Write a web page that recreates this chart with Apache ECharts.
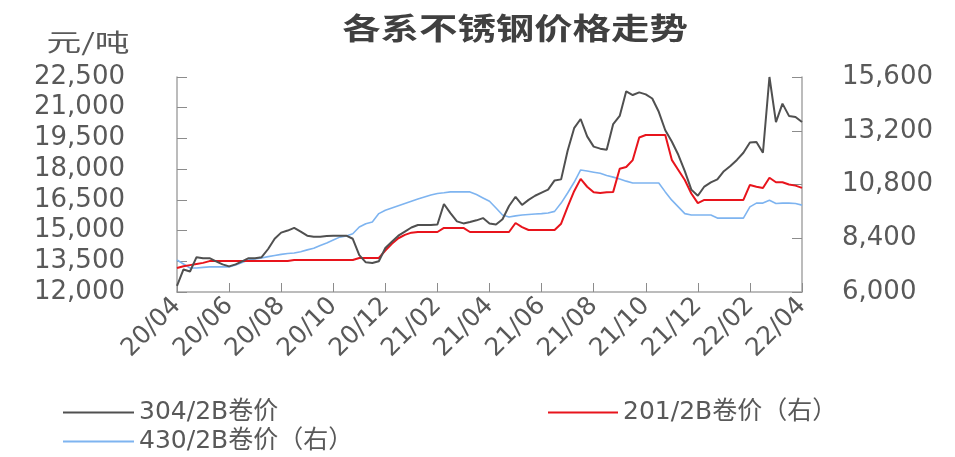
<!DOCTYPE html>
<html>
<head>
    <meta charset="utf-8">
    <title>各系不锈钢价格走势</title>
    <script src="https://cdn.jsdelivr.net/npm/echarts@6/dist/echarts.min.js"></script>
</head>
<body style="margin:0">
    <div id="main" style="width: 955px;height:457px;"></div>
    <script type="text/javascript">
// weekly dates, 2020-04 .. 2022-04
var months = ['2020-04','2020-05','2020-06','2020-07','2020-08','2020-09','2020-10','2020-11','2020-12',
    '2021-01','2021-02','2021-03','2021-04','2021-05','2021-06','2021-07','2021-08','2021-09','2021-10',
    '2021-11','2021-12','2022-01','2022-02','2022-03','2022-04'];
var days = ['01', '08', '16', '23'];

var dates = [];
months.forEach(function (m, i) {
    days.forEach(function (d, j) {
        if (i < months.length - 1 || j === 0) dates.push(m + '-' + d);
    });
});

// 304/2B 卷价 (left axis, 元/吨)
var s304 = [12300, 13100, 13000, 13700, 13650, 13650, 13500, 13350, 13250, 13350,
    13500, 13650, 13650, 13700, 14100, 14600, 14900, 15000, 15130, 14950,
    14750, 14700, 14700, 14730, 14750, 14750, 14750, 14600, 13800, 13450,
    13420, 13500, 14150, 14450, 14750, 14950, 15150, 15270, 15270, 15270,
    15300, 16300, 15850, 15450, 15350, 15420, 15500, 15610, 15350, 15300,
    15550, 16200, 16650, 16250, 16500, 16700, 16850, 17000, 17450, 17500,
    18900, 20000, 20450, 19600, 19100, 19000, 18950, 20200, 20600, 21800,
    21620, 21750, 21650, 21450, 20800, 19900, 19350, 18700, 17900, 17000,
    16700, 17150, 17350, 17500, 17900, 18150, 18450, 18800, 19300, 19330,
    18800, 22500, 20300, 21200, 20600, 20550, 20300];

// 201/2B 卷价 (right axis)
var s201 = [7070, 7150, 7200, 7250, 7300, 7380, 7380, 7380, 7380, 7380,
    7380, 7380, 7380, 7380, 7380, 7380, 7380, 7380, 7430, 7430,
    7430, 7430, 7430, 7430, 7430, 7430, 7430, 7430, 7520, 7520,
    7520, 7520, 7850, 8150, 8400, 8550, 8650, 8680, 8680, 8680,
    8680, 8860, 8860, 8860, 8860, 8680, 8680, 8680, 8680, 8680,
    8680, 8680, 9080, 8900, 8770, 8770, 8770, 8770, 8770, 9050,
    9800, 10500, 11050, 10700, 10450, 10420, 10450, 10470, 11500, 11580,
    11890, 12900, 13010, 13010, 13010, 13010, 11900, 11450, 11000, 10400,
    9970, 10110, 10110, 10110, 10110, 10110, 10110, 10110, 10780, 10700,
    10640, 11100, 10900, 10900, 10800, 10750, 10650];

// 430/2B 卷价 (right axis)
var s430 = [7430, 7250, 7070, 7070, 7100, 7120, 7120, 7120, 7120, 7210,
    7320, 7430, 7480, 7520, 7580, 7630, 7680, 7720, 7740, 7800,
    7880, 7950, 8080, 8190, 8320, 8450, 8500, 8600, 8900, 9050,
    9130, 9500, 9650, 9750, 9850, 9950, 10050, 10150, 10240, 10330,
    10400, 10430, 10470, 10470, 10470, 10470, 10350, 10200, 10050, 9750,
    9440, 9350, 9400, 9440, 9460, 9480, 9500, 9530, 9600, 9970,
    10420, 10900, 11450, 11400, 11350, 11300, 11200, 11130, 11050, 10950,
    10870, 10870, 10870, 10870, 10870, 10470, 10100, 9800, 9500, 9440,
    9440, 9440, 9440, 9300, 9300, 9300, 9300, 9300, 9800, 9970,
    9970, 10100, 9950, 9970, 9970, 9950, 9880];

var names = ['304/2B卷价', '201/2B卷价（右）', '430/2B卷价（右）'];

var myChart = echarts.init(document.getElementById('main'));

var labelFont = 'DejaVu Sans, Noto Sans CJK SC, sans-serif';
var axisGray = '#A6A6A6';
var tickGray = '#8C8C8C';
var textGray = '#595959';

function everyTwoMonths(index) {
    return index % 8 === 0;
}

function thousands(v) {
    return v.toLocaleString('en-US');
}

var legendText = { color: textGray, fontSize: 25, fontFamily: labelFont };

option = {
    backgroundColor: '#fff',
    animation: false,
    graphic: [{
        type: 'text',
        x: 515,
        y: 28,
        scaleX: 1.28,
        style: {
            text: '各系不锈钢价格走势',
            font: 'bold 30px "Noto Sans CJK SC"',
            fill: '#404040',
            textAlign: 'center',
            textVerticalAlign: 'middle'
        }
    }, {
        type: 'text',
        x: 88,
        y: 42,
        scaleX: 1.45,
        style: {
            text: '元/吨',
            font: '24px "Noto Sans CJK SC"',
            fill: textGray,
            textAlign: 'center',
            textVerticalAlign: 'middle'
        }
    }],
    legend: [{
        left: 58, top: 395,
        data: [names[0]],
        icon: 'rect', itemWidth: 71, itemHeight: 2,
        textStyle: legendText
    }, {
        left: 543, top: 395,
        data: [names[1]],
        icon: 'rect', itemWidth: 70, itemHeight: 2,
        textStyle: legendText
    }, {
        left: 58, top: 424,
        data: [names[2]],
        icon: 'rect', itemWidth: 71, itemHeight: 2,
        textStyle: legendText
    }],
    grid: {
        left: 177,
        right: 153,
        top: 77,
        bottom: 165
    },
    xAxis: {
        type: 'category',
        data: dates,
        boundaryGap: false,
        axisLine: { lineStyle: { color: axisGray, width: 1.5 } },
        axisTick: {
            show: true,
            inside: true,
            length: 9,
            interval: everyTwoMonths,
            lineStyle: { color: tickGray }
        },
        axisLabel: {
            interval: everyTwoMonths,
            rotate: 45,
            margin: 10,
            color: textGray,
            fontSize: 25,
            fontFamily: labelFont,
            formatter: function (v) {
                return v.slice(2, 4) + '/' + v.slice(5, 7);
            }
        },
        splitLine: { show: false }
    },
    yAxis: [{
        type: 'value',
        min: 12000,
        max: 22500,
        interval: 1500,
        axisLine: { show: true, lineStyle: { color: axisGray, width: 1.5 } },
        axisTick: { show: true, inside: true, length: 10, lineStyle: { color: tickGray } },
        axisLabel: {
            margin: 52,
            color: textGray,
            fontSize: 26,
            fontFamily: labelFont,
            formatter: thousands
        },
        splitLine: { show: false }
    }, {
        type: 'value',
        min: 6000,
        max: 15600,
        interval: 2400,
        position: 'right',
        axisLine: { show: true, lineStyle: { color: axisGray, width: 1.5 } },
        axisTick: { show: true, inside: true, length: 10, lineStyle: { color: tickGray } },
        axisLabel: {
            margin: 40,
            color: textGray,
            fontSize: 26,
            fontFamily: labelFont,
            formatter: thousands
        },
        splitLine: { show: false }
    }],
    series: [{
        name: names[0],
        type: 'line',
        data: s304,
        yAxisIndex: 0,
        symbol: 'none',
        color: '#505050',
        lineStyle: { width: 2 },
        z: 3
    }, {
        name: names[1],
        type: 'line',
        data: s201,
        yAxisIndex: 1,
        symbol: 'none',
        color: '#E8141C',
        lineStyle: { width: 2 },
        z: 2
    }, {
        name: names[2],
        type: 'line',
        data: s430,
        yAxisIndex: 1,
        symbol: 'none',
        color: '#7EB4F0',
        lineStyle: { width: 1.6 },
        z: 1
    }]
};

        myChart.setOption(option);
    </script>
</body>
</html>
